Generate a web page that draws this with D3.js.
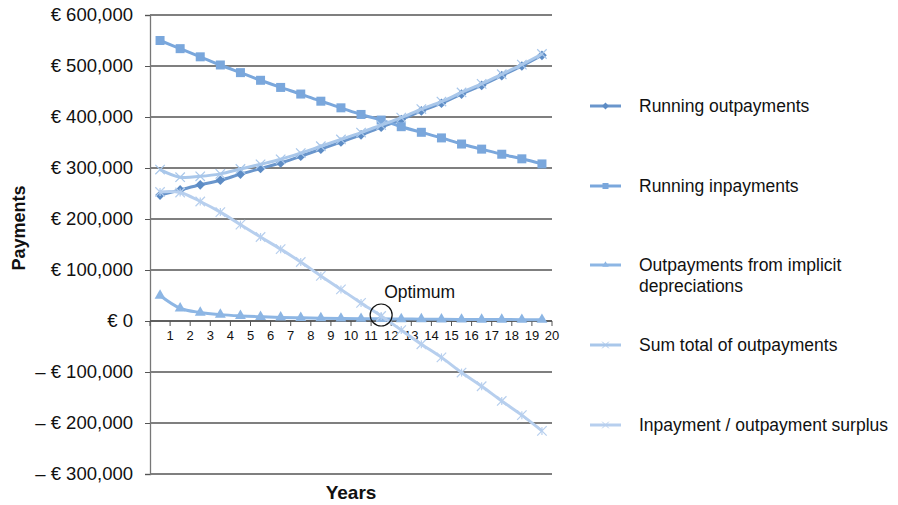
<!DOCTYPE html>
<html><head><meta charset="utf-8">
<script src="https://cdn.jsdelivr.net/npm/d3@7"></script>
<style>
body{margin:0;background:#fff;}
svg{display:block;font-family:"Liberation Sans",Arial,Helvetica,sans-serif;}
</style></head>
<body><svg id="c" width="898" height="505"></svg>
<script>
const years = [1,2,3,4,5,6,7,8,9,10,11,12,13,14,15,16,17,18,19,20];
const runningOutpayments = [247000,257000,267000,276000,288000,299000,310000,323000,337000,351000,365000,380000,395000,412000,427000,445000,462000,481000,500000,521000];
const runningInpayments = [550000,534000,518000,502000,487000,472000,458000,445000,431000,418000,405000,394000,381000,370000,359000,347000,337000,327000,318000,308000];
const implicitDepreciation = [50000,25000,16700,12500,10000,8300,7100,6300,5600,5000,4500,4200,3800,3600,3300,3100,2900,2800,2600,2500];
const sumTotalOutpayments = [297000,282000,283700,288500,298000,307300,317100,329300,342600,356000,369500,384200,398800,415600,430300,448100,464900,483800,502600,523500];
const surplus = [253000,252000,234300,213500,189000,164700,140900,115700,88400,62000,35500,9800,-17800,-45600,-71300,-101100,-127900,-156800,-184600,-215500];
const yTicks = [-300000,-200000,-100000,0,100000,200000,300000,400000,500000,600000];
const seriesNames = ["Running outpayments","Running inpayments","Outpayments from implicit depreciations","Sum total of outpayments","Inpayment / outpayment surplus"];

const series = [
  {name:seriesNames[0], values:runningOutpayments, line:"#6a96cc", fill:"#5d8cc5", marker:"diamond"},
  {name:seriesNames[1], values:runningInpayments, line:"#7aa7dc", fill:"#7aa7dc", marker:"square"},
  {name:seriesNames[2], values:implicitDepreciation, line:"#8db6e4", fill:"#8db6e4", marker:"triangle"},
  {name:seriesNames[3], values:sumTotalOutpayments, line:"#a9c7ea", fill:"#a9c7ea", marker:"x"},
  {name:seriesNames[4], values:surplus, line:"#b7cfee", fill:"#b7cfee", marker:"star"}
];

const svg = d3.select("#c");
const x = d3.scaleBand().domain(years).range([150,552]).padding(0);
const y = d3.scaleLinear().domain([-300000,600000]).range([474,15]);
const cx = d => x(d) + x.bandwidth()/2;

// gridlines
svg.append("g").selectAll("line").data(yTicks).join("line")
  .attr("x1",150).attr("x2",552).attr("y1",d=>y(d)).attr("y2",d=>y(d))
  .attr("stroke","#555").attr("stroke-width",1.3);

// y axis
const fmt = v => (v<0?"\u2013 ":"") + "\u20AC " + d3.format(",")(Math.abs(v));
const yAxis = svg.append("g").attr("transform","translate(150,0)")
  .call(d3.axisLeft(y).tickValues(yTicks).tickFormat(fmt).tickSize(5).tickPadding(12));
yAxis.select(".domain").attr("stroke","#777").attr("stroke-width",1.3);
yAxis.selectAll(".tick line").attr("stroke","#555");
yAxis.selectAll("text").attr("font-size",18.5).attr("fill","#111").attr("font-family","Liberation Sans, Arial, sans-serif");

// x axis at 0
const xAxisG = svg.append("g").attr("transform",`translate(0,${y(0)})`);
const bounds = [0].concat(years);
xAxisG.append("line").attr("x1",150).attr("x2",552).attr("y1",0).attr("y2",0).attr("stroke","#555").attr("stroke-width",1.3);
xAxisG.selectAll("line.t").data(bounds).join("line").attr("class","t")
  .attr("x1",d=>d===0?150:x(d)+x.bandwidth()).attr("x2",d=>d===0?150:x(d)+x.bandwidth())
  .attr("y1",0).attr("y2",5).attr("stroke","#555");
xAxisG.selectAll("text").data(years).join("text")
  .attr("x",d=>x(d)+x.bandwidth()).attr("y",19).attr("text-anchor","middle")
  .attr("font-size",13).attr("fill","#111").text(d=>d);

// lines
const line = d3.line().x((d,i)=>cx(years[i])).y(d=>y(d)).curve(d3.curveCatmullRom.alpha(0.5));
function drawMarker(g, type, px, py, s){
  if(type==="diamond") g.append("path").attr("d",d3.symbol(d3.symbolDiamond2, 60)()).attr("transform",`translate(${px},${py})`).attr("fill",s.fill);
  else if(type==="square") g.append("rect").attr("x",px-4.5).attr("y",py-4.5).attr("width",9).attr("height",9).attr("fill",s.fill);
  else if(type==="triangle") g.append("path").attr("d",d3.symbol(d3.symbolTriangle2, 85)()).attr("transform",`translate(${px},${py})`).attr("fill",s.fill);
  else if(type==="x") g.append("path").attr("d",d3.symbol(d3.symbolTimes, 60)()).attr("transform",`translate(${px},${py})`).attr("fill","none").attr("stroke",s.fill).attr("stroke-width",1.2);
  else if(type==="star"){ g.append("path").attr("d",d3.symbol(d3.symbolTimes, 60)()).attr("transform",`translate(${px},${py})`).attr("fill","none").attr("stroke",s.fill).attr("stroke-width",1.2);
    g.append("line").attr("x1",px).attr("x2",px).attr("y1",py-4).attr("y2",py+4).attr("stroke",s.fill).attr("stroke-width",1.2);}
}
series.forEach(s=>{
  const g = svg.append("g");
  g.append("path").datum(s.values).attr("d",line).attr("fill","none").attr("stroke",s.line).attr("stroke-width",3);
  s.values.forEach((v,i)=>drawMarker(g, s.marker, cx(years[i]), y(v), s));
});

// optimum annotation
const optIdx = 11;
svg.append("circle").attr("cx",cx(years[optIdx])).attr("cy",y(surplus[optIdx])-1).attr("r",11)
  .attr("fill","none").attr("stroke","#111").attr("stroke-width",1.2);
svg.append("text").attr("x",cx(years[optIdx])+3).attr("y",y(surplus[optIdx])-18)
  .attr("font-size",17.5).attr("fill","#111").text("Optimum");

// axis titles
svg.append("text").attr("transform","translate(25,228) rotate(-90)").attr("text-anchor","middle")
  .attr("font-size",18).attr("font-weight","bold").attr("fill","#111").text("Payments");
svg.append("text").attr("x",351).attr("y",499).attr("text-anchor","middle")
  .attr("font-size",19).attr("font-weight","bold").attr("fill","#111").text("Years");

// legend
const legY = [106,186,265,345,425];
const leg = svg.append("g");
series.forEach((s,i)=>{
  const ly = legY[i];
  leg.append("line").attr("x1",590).attr("x2",621).attr("y1",ly).attr("y2",ly).attr("stroke",s.line).attr("stroke-width",3);
  const mg = leg.append("g");
  if(s.marker==="diamond") mg.append("path").attr("d",d3.symbol(d3.symbolDiamond2,30)()).attr("transform",`translate(605.5,${ly})`).attr("fill",s.fill);
  else if(s.marker==="square") mg.append("rect").attr("x",602.5).attr("y",ly-3).attr("width",6).attr("height",6).attr("fill",s.fill);
  else if(s.marker==="triangle") mg.append("path").attr("d",d3.symbol(d3.symbolTriangle2,30)()).attr("transform",`translate(605.5,${ly})`).attr("fill",s.fill);
  else mg.append("path").attr("d",d3.symbol(d3.symbolTimes,30)()).attr("transform",`translate(605.5,${ly})`).attr("fill","none").attr("stroke",s.fill).attr("stroke-width",1);
  const t = leg.append("text").attr("x",639).attr("y",ly+6).attr("font-size",17.5).attr("fill","#111");
  if(i===2){
    t.append("tspan").attr("x",639).text("Outpayments from implicit");
    t.append("tspan").attr("x",639).attr("dy",21).text("depreciations");
  } else t.text(s.name);
});
</script></body></html>
